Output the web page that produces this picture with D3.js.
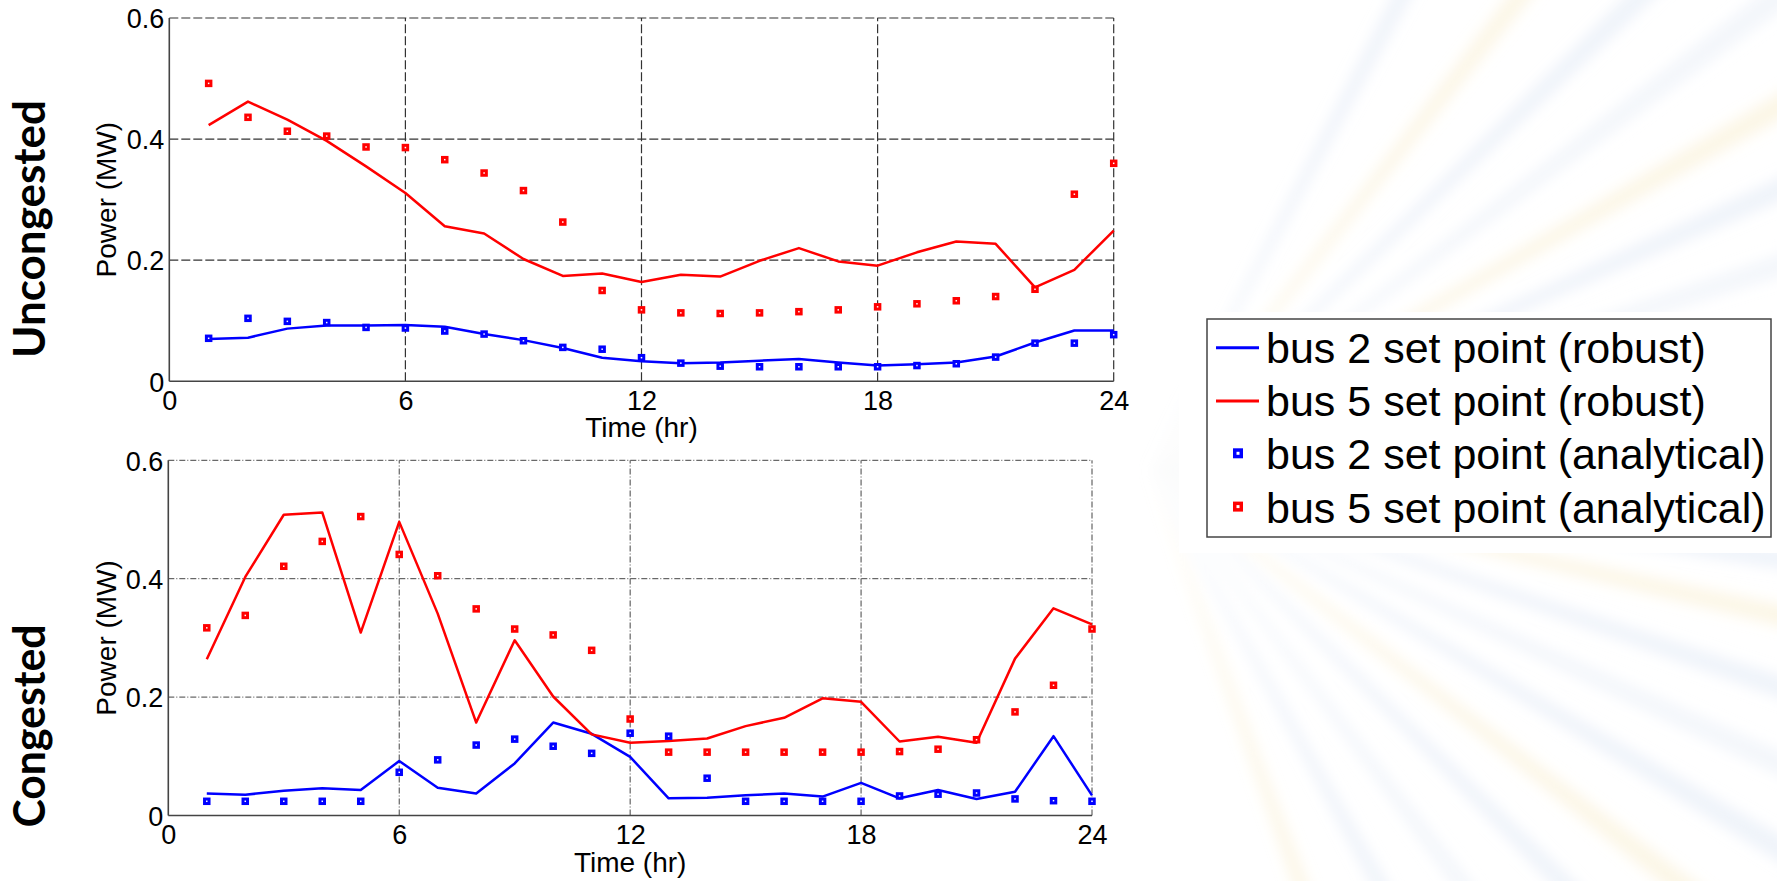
<!DOCTYPE html>
<html>
<head>
<meta charset="utf-8">
<script src="https://cdn.jsdelivr.net/npm/d3@7"></script>
<style>
body { margin: 0; background: #fff; overflow: hidden; }
text { font-family: "Liberation Sans", Arial, sans-serif; fill: #000; }
</style>
</head>
<body>
<svg id="canvas" width="1777" height="881"></svg>
<script>
// ###############
// data
// ###############
var hours = [1, 2, 3, 4, 5, 6, 7, 8, 9, 10, 11, 12, 13, 14, 15, 16, 17, 18, 19, 20, 21, 22, 23, 24];
var xTicks = [0, 6, 12, 18, 24];
var yTicks = [0, 0.2, 0.4, 0.6];
var yTickLabels = ["0", "0.2", "0.4", "0.6"];

// uncongested case
var uncBus2Robust = [0.070, 0.072, 0.087, 0.092, 0.092, 0.093, 0.090, 0.078, 0.068, 0.055, 0.039, 0.033,
                     0.030, 0.031, 0.034, 0.037, 0.031, 0.026, 0.028, 0.031, 0.041, 0.064, 0.084, 0.084];
var uncBus5Robust = [0.423, 0.462, 0.432, 0.397, 0.355, 0.311, 0.256, 0.244, 0.202, 0.174, 0.178, 0.164,
                     0.176, 0.173, 0.199, 0.220, 0.198, 0.191, 0.213, 0.231, 0.227, 0.155, 0.184, 0.249];
var uncBus2Analytic = [0.071, 0.104, 0.099, 0.097, 0.089, 0.088, 0.083, 0.078, 0.067, 0.056, 0.053, 0.039,
                       0.030, 0.025, 0.024, 0.024, 0.024, 0.024, 0.026, 0.029, 0.040, 0.063, 0.063, 0.077];
var uncBus5Analytic = [0.492, 0.436, 0.413, 0.405, 0.387, 0.386, 0.366, 0.344, 0.315, 0.263, 0.150, 0.118,
                       0.113, 0.112, 0.113, 0.115, 0.118, 0.123, 0.128, 0.133, 0.140, 0.152, 0.309, 0.360];

// congested case
var conBus2Robust = [0.037, 0.035, 0.042, 0.046, 0.043, 0.092, 0.047, 0.037, 0.088, 0.157, 0.138, 0.099,
                     0.029, 0.030, 0.034, 0.037, 0.032, 0.055, 0.029, 0.043, 0.028, 0.040, 0.134, 0.034];
var conBus5Robust = [0.264, 0.403, 0.508, 0.512, 0.309, 0.496, 0.341, 0.157, 0.296, 0.201, 0.137, 0.123,
                     0.126, 0.130, 0.151, 0.165, 0.198, 0.192, 0.125, 0.133, 0.123, 0.265, 0.350, 0.323];
var conBus2Analytic = [0.024, 0.024, 0.024, 0.024, 0.024, 0.073, 0.094, 0.119, 0.129, 0.117, 0.105, 0.139,
                       0.134, 0.063, 0.024, 0.024, 0.024, 0.024, 0.033, 0.036, 0.038, 0.028, 0.025, 0.024];
var conBus5Analytic = [0.317, 0.338, 0.421, 0.463, 0.505, 0.441, 0.405, 0.349, 0.315, 0.305, 0.279, 0.163,
                       0.107, 0.107, 0.107, 0.107, 0.107, 0.107, 0.108, 0.112, 0.128, 0.175, 0.220, 0.315];

var legendLabels = ["bus 2 set point (robust)", "bus 5 set point (robust)",
                    "bus 2 set point (analytical)", "bus 5 set point (analytical)"];

// decorative slide background: ray angles (deg) and colours
var rayAngles = [-62, -52, -44, -37, -30, -24, -18, -12, -7, -2, 3, 8, 13, 19, 25, 31, 38, 45, 53, 61, 70];
var rayColors = ["#dbe5f4", "#f8ecc8", "#dbe5f4", "#e4ebf6", "#f8ecc8", "#dbe5f4", "#e4ebf6",
                 "#dbe5f4", "#f8ecc8", "#dbe5f4", "#e4ebf6", "#dbe5f4", "#f8ecc8", "#dbe5f4",
                 "#e4ebf6", "#dbe5f4", "#f8ecc8", "#dbe5f4", "#e4ebf6", "#dbe5f4", "#f8ecc8"];

var BLUE = "#0000ff", RED = "#ff0000";

var svg = d3.select("#canvas");

// ###############
// background (faint rays of the slide template)
// ###############
var defs = svg.append("defs");
defs.append("filter").attr("id", "soft")
  .append("feGaussianBlur").attr("stdDeviation", 7);

var bg = svg.append("g").attr("filter", "url(#soft)");
var cx = 1150, cy = 470, R = 1100;
rayAngles.forEach(function(a, i) {
    var w = 0.9;
    var a1 = (a - w) * Math.PI / 180, a2 = (a + w) * Math.PI / 180;
    var pts = [[cx, cy],
               [cx + R * Math.cos(a1), cy + R * Math.sin(a1)],
               [cx + R * Math.cos(a2), cy + R * Math.sin(a2)]];
    bg.append("polygon")
      .attr("points", pts.map(function(p) { return p.join(","); }).join(" "))
      .attr("fill", rayColors[i])
      .attr("opacity", 0.45);
});

// white areas of the pasted figures
svg.append("rect").attr("x", 0).attr("y", 0).attr("width", 1180).attr("height", 360).attr("fill", "#fff");
svg.append("rect").attr("x", 0).attr("y", 360).attr("width", 1132).attr("height", 521).attr("fill", "#fff");
svg.append("rect").attr("x", 1179).attr("y", 312).attr("width", 598).attr("height", 241).attr("fill", "#fff");

// ###############
// one panel
// ###############
function drawPanel(box, series, gridStyle, sideLabel) {
    var x = d3.scaleLinear().domain([0, 24]).range([box.left, box.right]);
    var y = d3.scaleLinear().domain([0, 0.6]).range([box.bottom, box.top]);
    var g = svg.append("g");

    // grid lines (incl. top and right edge, which are dashed like the grid)
    var grid = g.append("g").attr("class", "grid");
    grid.selectAll("line.v").data(xTicks.slice(1)).enter().append("line")
        .attr("x1", function(d) { return x(d); }).attr("x2", function(d) { return x(d); })
        .attr("y1", y(0)).attr("y2", y(0.6));
    grid.selectAll("line.h").data(yTicks.slice(1)).enter().append("line")
        .attr("x1", x(0)).attr("x2", x(24))
        .attr("y1", function(d) { return y(d); }).attr("y2", function(d) { return y(d); });
    grid.selectAll("line")
        .attr("stroke", gridStyle.color)
        .attr("stroke-width", gridStyle.width)
        .attr("stroke-dasharray", gridStyle.dash);

    // solid left / bottom axes
    g.append("line").attr("x1", x(0)).attr("x2", x(0)).attr("y1", y(0)).attr("y2", y(0.6))
        .attr("stroke", "#444").attr("stroke-width", 1.6);
    g.append("line").attr("x1", x(0)).attr("x2", x(24)).attr("y1", y(0)).attr("y2", y(0))
        .attr("stroke", "#444").attr("stroke-width", 1.6);

    // tick labels
    var xAxis = d3.axisBottom(x).tickValues(xTicks).tickSize(0).tickPadding(0);
    var xg = g.append("g").attr("transform", "translate(0," + y(0) + ")").call(xAxis);
    xg.select(".domain").remove();
    xg.selectAll("text").attr("dy", null).attr("y", 28.5)
        .attr("font-size", 27).attr("font-family", "Liberation Sans, Arial, sans-serif").attr("fill", "#000");

    var yAxis = d3.axisLeft(y).tickValues(yTicks).tickSize(0).tickPadding(0)
        .tickFormat(function(d, i) { return yTickLabels[i]; });
    var yg = g.append("g").attr("transform", "translate(" + (x(0) - 5) + ",0)").call(yAxis);
    yg.select(".domain").remove();
    yg.selectAll("text").attr("dy", "0.36em").attr("x", 0)
        .attr("font-size", 27).attr("font-family", "Liberation Sans, Arial, sans-serif").attr("fill", "#000");

    // axis titles
    g.append("text")
        .attr("x", (x(0) + x(24)) / 2).attr("y", y(0) + 56)
        .attr("text-anchor", "middle").attr("font-size", 28)
        .text("Time (hr)");
    g.append("text")
        .attr("transform", "translate(116," + ((y(0) + y(0.6)) / 2) + ") rotate(-90)")
        .attr("text-anchor", "middle").attr("font-size", 28)
        .text("Power (MW)");

    // bold side label
    g.append("text")
        .attr("transform", "translate(45," + sideLabel.cy + ") rotate(-90)")
        .attr("text-anchor", "middle")
        .attr("font-size", 44).attr("font-weight", 700)
        .style("font-family", "Lato, 'Open Sans', sans-serif")
        .attr("textLength", sideLabel.len).attr("lengthAdjust", "spacingAndGlyphs")
        .text(sideLabel.text);

    // robust set points (lines)
    var line = d3.line()
        .x(function(d) { return x(d[0]); })
        .y(function(d) { return y(d[1]); });
    series.lines.forEach(function(s) {
        g.append("path")
          .datum(d3.zip(hours, s.values))
          .attr("d", line)
          .attr("fill", "none")
          .attr("stroke", s.color)
          .attr("stroke-width", 2.5)
          .attr("stroke-linejoin", "round");
    });

    // analytical set points (square markers)
    series.points.forEach(function(s) {
        g.append("g").selectAll("rect")
          .data(d3.zip(hours, s.values))
          .enter().append("rect")
          .attr("x", function(d) { return x(d[0]) - 2.25; })
          .attr("y", function(d) { return y(d[1]) - 2.25; })
          .attr("width", 4.5).attr("height", 4.5)
          .attr("fill", "#fff")
          .attr("stroke", s.color)
          .attr("stroke-width", 3);
    });
}

drawPanel({left: 169.3, right: 1113.7, top: 18, bottom: 381.3},
    {lines: [{values: uncBus2Robust, color: BLUE}, {values: uncBus5Robust, color: RED}],
     points: [{values: uncBus2Analytic, color: BLUE}, {values: uncBus5Analytic, color: RED}]},
    {color: "#333", width: 1.2, dash: "9,3"},
    {text: "Uncongested", cy: 229, len: 258});

drawPanel({left: 168.3, right: 1092, top: 460.3, bottom: 815.5},
    {lines: [{values: conBus2Robust, color: BLUE}, {values: conBus5Robust, color: RED}],
     points: [{values: conBus2Analytic, color: BLUE}, {values: conBus5Analytic, color: RED}]},
    {color: "#444", width: 1, dash: "6,2,1,2"},
    {text: "Congested", cy: 726, len: 203});

// ###############
// legend
// ###############
var lg = svg.append("g");
lg.append("rect").attr("x", 1207).attr("y", 319).attr("width", 564).attr("height", 218)
  .attr("fill", "#fff").attr("stroke", "#444").attr("stroke-width", 1.5);
var legendColors = [BLUE, RED, BLUE, RED];
legendLabels.forEach(function(lbl, i) {
    var base = 362.7 + i * 53.3;
    var mid = base - 15;
    if (i < 2) {
        lg.append("line").attr("x1", 1216).attr("x2", 1259).attr("y1", mid).attr("y2", mid)
          .attr("stroke", legendColors[i]).attr("stroke-width", 3);
    } else {
        lg.append("rect").attr("x", 1238 - 3.25).attr("y", mid - 3.25 - 1)
          .attr("width", 6.5).attr("height", 6.5)
          .attr("fill", "#fff").attr("stroke", legendColors[i]).attr("stroke-width", 3.5);
    }
    lg.append("text").attr("x", 1266).attr("y", base)
      .attr("font-size", 43).text(lbl);
});
</script>
</body>
</html>
